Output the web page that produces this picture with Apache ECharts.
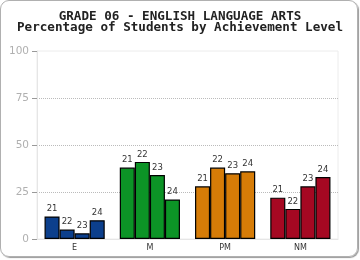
<!DOCTYPE html>
<html><head><meta charset="utf-8">
<script src="https://cdn.jsdelivr.net/npm/echarts@6/dist/echarts.min.js"></script>
<style>
html,body{margin:0;padding:0;background:#fff;}
#frame{position:absolute;left:0;top:0;width:356px;height:255px;border:1px solid #b0b0b0;border-radius:9px;box-shadow:1px 1px 1px #999;}
#c{position:absolute;left:0;top:0;width:360px;height:260px;}
</style></head>
<body>
<div id="frame"></div>
<div id="c"></div>
<script>
const categories = ['E', 'M', 'PM', 'NM'];
const seriesNames = ['21', '22', '23', '24'];
const values21 = [12, 38, 28, 22];
const values22 = [5, 41, 38, 16];
const values23 = [3, 34, 35, 28];
const values24 = [10, 21, 36, 33];
const yTicks = [0, 25, 50, 75, 100];
const categoryColors = ['#0c3f8c', '#0c9426', '#d67c07', '#a50822'];

const allValues = [values21, values22, values23, values24];
const chart = echarts.init(document.getElementById('c'), null, {renderer: 'canvas'});
chart.setOption({
  animation: false,
  backgroundColor: 'transparent',
  title: {
    text: 'GRADE 06 - ENGLISH LANGUAGE ARTS\nPercentage of Students by Achievement Level',
    left: 'center', top: 6,
    textStyle: {fontFamily: 'DejaVu Sans Mono', fontWeight: 'bold', fontSize: 12.6, lineHeight: 11, color: '#222'}
  },
  grid: {left: 37, right: 22, top: 51, bottom: 21, show: true, borderColor: '#ececec', borderWidth: 1},
  xAxis: {
    type: 'category', data: categories,
    axisLine: {show: true, lineStyle: {color: '#e6e6e6'}},
    axisTick: {show: false},
    axisLabel: {fontSize: 8, color: '#333', margin: 5, fontFamily: 'DejaVu Sans'}
  },
  yAxis: {
    type: 'value', min: yTicks[0], max: yTicks[yTicks.length - 1], interval: 25,
    axisLine: {show: true, lineStyle: {color: '#e6e6e6'}},
    axisTick: {show: true, length: 5, lineStyle: {color: '#999'}},
    axisLabel: {fontSize: 10.5, color: '#b0b0b0', margin: 8, fontFamily: 'DejaVu Sans'},
    splitLine: {show: true, showMinLine: false, showMaxLine: false, lineStyle: {color: '#bbb', type: [1, 1], width: 1}}
  },
  series: seriesNames.map((name, i) => ({
    name: name, type: 'bar',
    data: allValues[i],
    barGap: '0%', barCategoryGap: '20%',
    itemStyle: {
      color: p => categoryColors[p.dataIndex],
      borderColor: '#000', borderWidth: 1.2
    },
    label: {
      show: true, position: 'top', distance: 3,
      formatter: name, fontSize: 8.5, color: '#333', fontFamily: 'DejaVu Sans'
    }
  }))
});
</script>
</body></html>
